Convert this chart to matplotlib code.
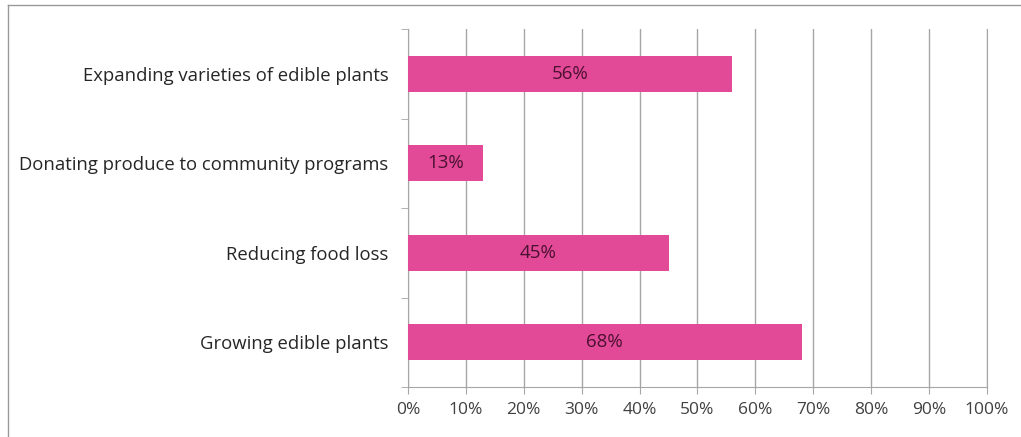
import matplotlib.pyplot as plt
from matplotlib.lines import Line2D

# data (bottom to top, as drawn)
categories = ['Growing edible plants', 'Reducing food loss',
              'Donating produce to community programs',
              'Expanding varieties of edible plants']
values = [68, 45, 13, 56]
labels = ['68%', '45%', '13%', '56%']
xticks = [0, 10, 20, 30, 40, 50, 60, 70, 80, 90, 100]

plt.rcParams['font.family'] = ['Open Sans', 'DejaVu Sans']

fig = plt.figure(figsize=(10.21, 4.37), dpi=100)
ax = fig.add_axes([0.3996, 0.1144, 0.5671, 0.8192])

pos = list(range(len(categories)))
ax.barh(pos, values, height=0.4, color='#e24a98', zorder=3)
for p, v, lab in zip(pos, values, labels):
    ax.text(v / 2, p, lab, ha='center', va='center', fontsize=13.5,
            color='#4a1030', zorder=4)

ax.set_xlim(0, 100)
ax.set_ylim(-0.5, len(categories) - 0.5)
ax.set_xticks(xticks)
ax.set_xticklabels([f'{t}%' for t in xticks], fontsize=12.5, color='#404040')
ax.set_yticks(pos)
ax.set_yticklabels(categories, fontsize=13.3, color='#262626')
ax.set_yticks([p - 0.5 for p in pos] + [len(pos) - 0.5], minor=True)

ax.grid(axis='x', color='#a6a6a6', linewidth=1, zorder=0)
ax.spines['top'].set_visible(False)
for s in ['left', 'bottom', 'right']:
    ax.spines[s].set_color('#a6a6a6')
ax.tick_params(axis='y', which='major', length=0, pad=14)
ax.tick_params(axis='y', which='minor', length=5, color='#a6a6a6')
ax.tick_params(axis='x', length=5, color='#a6a6a6', pad=6)

# outer chart frame (cropped on right and bottom)
fig.add_artist(Line2D([8 / 1021, 1], [1 - 5 / 437, 1 - 5 / 437],
                      transform=fig.transFigure, color='#999999', lw=1))
fig.add_artist(Line2D([8 / 1021, 8 / 1021], [0, 1 - 5 / 437],
                      transform=fig.transFigure, color='#999999', lw=1))

fig.savefig('out.png', dpi=100)
